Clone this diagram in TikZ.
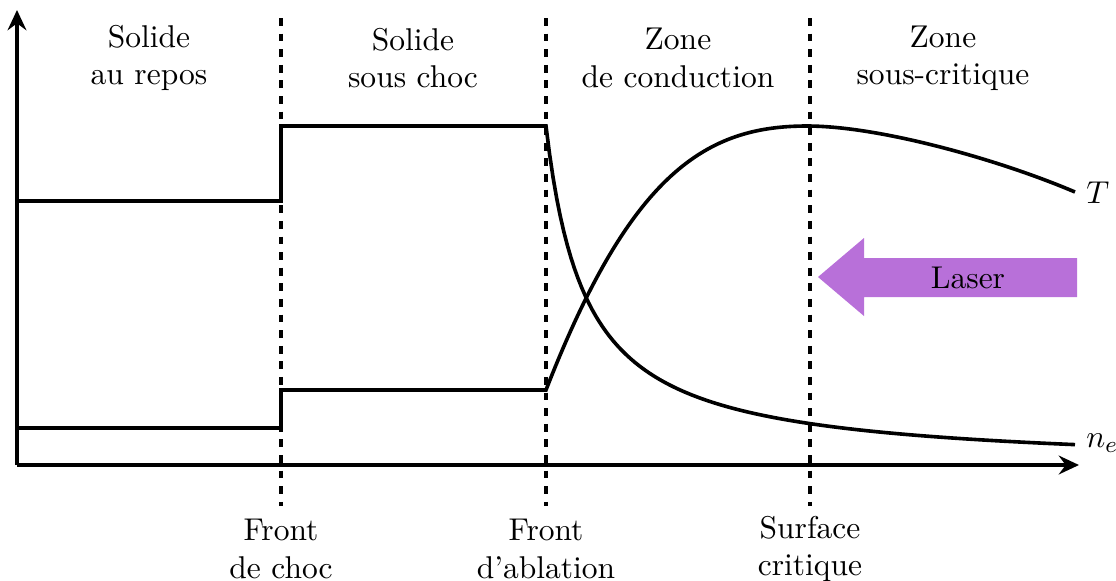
\documentclass[tikz,border=0pt]{standalone}
\usetikzlibrary{arrows.meta}
\definecolor{lasercol}{RGB}{184,112,217}
\begin{document}
\begin{tikzpicture}[x=0.346pt,y=-0.346pt,
  font=\fontsize{10.9}{12.9}\selectfont,
  axis/.style={line width=1.5pt,-{Stealth[length=7pt,width=6.5pt,inset=2.4pt]}},
  curve/.style={line width=1.25pt, line join=miter},
  sep/.style={line width=1.2pt, dash pattern=on 2.7pt off 2.7pt},
  lbl/.style={align=center}]
\useasboundingbox (0,0) rectangle (1116,580);
% axes
\coordinate (O) at (17,465);
\coordinate (ytop) at (17,10);
\coordinate (xend) at (1079,465);
% separators
\coordinate (s1t) at (281,18); \coordinate (s1b) at (281,506);
\coordinate (s2t) at (546,18); \coordinate (s2b) at (546,506);
\coordinate (s3t) at (810,18); \coordinate (s3b) at (810,506);
\draw[sep] (s1t) -- (s1b);
\draw[sep] (s2t) -- (s2b);
\draw[sep] (s3t) -- (s3b);
% density n_e
\draw[curve] (17,201) -- (281,201) -- (281,126) -- (546,126)
  -- plot[domain=546:1075,samples=150] (\x,{465-13708/(\x-506)+3.7});
% temperature T
\draw[curve] (17,428) -- (281,428) -- (281,390) -- (546,390)
  .. controls (631,171.5) and (707,126) .. (807,126)
  .. controls (880,126) and (1000,160) .. (1075,192);
\draw[axis] (O) -- (ytop);
\draw[axis] (O) -- (xend);
% curve labels
\node[anchor=west,inner sep=1pt] (Tl) at (1083,193) {$T$};
\node[anchor=west,inner sep=1pt] (nl) at (1083,443) {$n_e$};
% laser
\fill[lasercol] (818,277) -- (864,238) -- (864,258) -- (1077,258) -- (1077,297)
  -- (864,297) -- (864,316) -- cycle;
\node (laser) at (968,278) {Laser};
% zone labels
\node[lbl] (z1) at (149,58) {Solide\\au repos};
\node[lbl] (z2) at (413,58) {Solide\\sous choc};
\node[lbl] (z3) at (678,58) {Zone\\de conduction};
\node[lbl] (z4) at (943,58) {Zone\\sous-critique};
% front labels
\node[lbl] (f1) at (281,549) {Front\\de choc};
\node[lbl] (f2) at (546,549) {Front\\d'ablation};
\node[lbl] (f3) at (810,549) {Surface\\critique};
\end{tikzpicture}
\end{document}
